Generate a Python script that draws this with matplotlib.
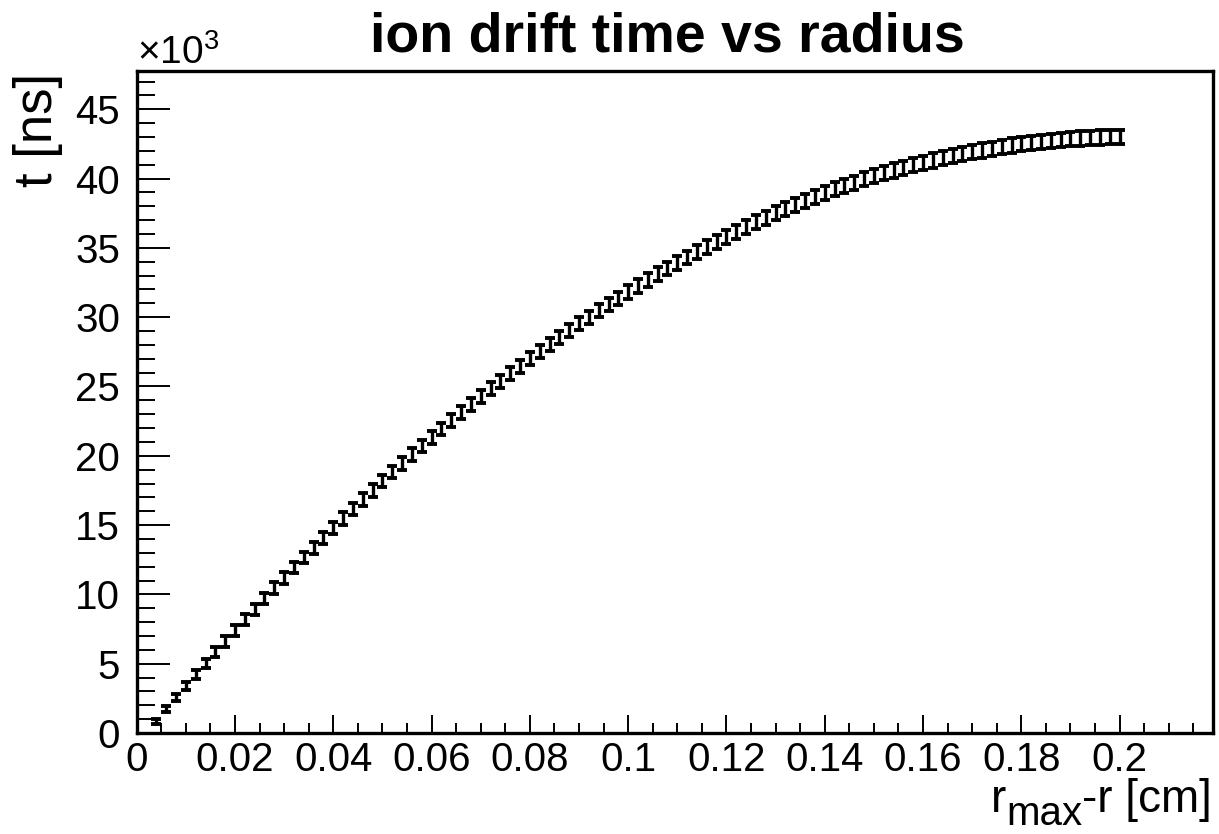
#!/usr/bin/env python3
"""Ion drift time vs radius, ROOT-style graph with error bars."""

import numpy as np
import matplotlib
matplotlib.use("Agg")
from matplotlib import pyplot as plt
from matplotlib.ticker import MultipleLocator, FuncFormatter

plt.rcParams["font.family"] = ["Liberation Sans", "DejaVu Sans"]
plt.rcParams["mathtext.fontset"] = "custom"
plt.rcParams["mathtext.rm"] = "Liberation Sans"
plt.rcParams["mathtext.it"] = "Liberation Sans"

# r_max - r in cm (0.004 ... 0.2, bins of 0.002)
r_cm = [round(0.002 * i, 3) for i in range(2, 101)]

# drift time in units of 10^3 ns
t_kns = [
    0.86, 1.70, 2.54, 3.37, 4.19, 5.00, 5.81, 6.60, 7.39, 8.17,
    8.94, 9.70, 10.45, 11.20, 11.93, 12.66, 13.38, 14.09, 14.79, 15.48,
    16.16, 16.84, 17.50, 18.16, 18.81, 19.45, 20.08, 20.71, 21.32, 21.93,
    22.53, 23.12, 23.70, 24.27, 24.83, 25.39, 25.93, 26.47, 27.00, 27.52,
    28.03, 28.54, 29.03, 29.52, 29.99, 30.46, 30.92, 31.37, 31.82, 32.25,
    32.68, 33.10, 33.51, 33.91, 34.30, 34.69, 35.07, 35.44, 35.80, 36.16,
    36.50, 36.84, 37.17, 37.49, 37.80, 38.10, 38.39, 38.68, 38.96, 39.22,
    39.47, 39.71, 39.95, 40.17, 40.38, 40.58, 40.78, 40.96, 41.13, 41.30,
    41.46, 41.61, 41.76, 41.90, 42.03, 42.15, 42.27, 42.38, 42.48, 42.57,
    42.65, 42.72, 42.79, 42.84, 42.89, 42.93, 42.96, 42.98, 43.00,
]

# error on the drift time, ns
t_err_ns = [
    180, 220, 260, 290, 320, 340, 360, 370, 380, 390,
    400, 405, 410, 415, 420, 425, 430, 432, 435, 438,
    440, 442, 444, 446, 448, 450, 452, 454, 456, 458,
    460, 462, 464, 466, 468, 470, 471, 472, 473, 474,
    475, 476, 477, 478, 479, 480, 481, 482, 483, 484,
    485, 486, 487, 488, 489, 490, 491, 492, 493, 494,
    495, 496, 497, 498, 499, 500, 501, 502, 503, 504,
    505, 506, 507, 508, 509, 510, 511, 512, 513, 514,
    515, 516, 516, 517, 517, 518, 518, 519, 519, 520,
    520, 520, 520, 520, 520, 520, 520, 520, 520,
]

t_ns = np.array(t_kns) * 1e3

W, H = 1219, 834
fig = plt.figure(figsize=(W / 100, H / 100), dpi=100)
ax = fig.add_axes([136.7 / W, 1 - 733 / H, (1213 - 136.7) / W, (733 - 71) / H])

ax.errorbar(r_cm, t_ns, yerr=t_err_ns, fmt="none", ecolor="black",
            elinewidth=2.4, capsize=3.6, capthick=2.8)

ax.set_xlim(0, 0.219)
ax.set_ylim(0, 47760)

ax.xaxis.set_major_locator(MultipleLocator(0.02))
ax.xaxis.set_minor_locator(MultipleLocator(0.005))
ax.yaxis.set_major_locator(MultipleLocator(5000))
ax.yaxis.set_minor_locator(MultipleLocator(1000))
ax.xaxis.set_major_formatter(FuncFormatter(lambda v, p: f"{v:g}"))
ax.yaxis.set_major_formatter(FuncFormatter(lambda v, p: f"{v / 1000:g}"))

ax.tick_params(axis="both", which="both", direction="in", top=False,
               right=False, width=1.4, labelsize=29)
ax.tick_params(axis="x", which="major", length=13, pad=6)
ax.tick_params(axis="x", which="minor", length=7)
ax.tick_params(axis="y", which="major", length=24, pad=12)
ax.tick_params(axis="y", which="minor", length=13)
for s in ax.spines.values():
    s.set_linewidth(2.4)

# Finishing touches
fig.text(667 / W, 1 - 52 / H, "ion drift time vs radius", ha="center",
         va="baseline", fontsize=40, fontweight="bold")
fig.text(137 / W, 1 - 64 / H, r"$\mathregular{\times10^{3}}$", ha="left",
         va="baseline", fontsize=28)
fig.text(38 / W, 1 - 73 / H, "t [ns]", rotation=90, ha="center", va="top",
         fontsize=38)

# x axis title built from pieces so the subscript stays large, as in ROOT
renderer = fig.canvas.get_renderer()
inv = fig.transFigure.inverted()
part = fig.text(1212 / W, 1 - 812 / H, "-r [cm]", ha="right",
                va="baseline", fontsize=33)
x0 = inv.transform(part.get_window_extent(renderer).p0)[0]
part = fig.text(x0, 1 / H, "max", ha="right", va="bottom", fontsize=29)
x0 = inv.transform(part.get_window_extent(renderer).p0)[0]
fig.text(x0, 1 - 812 / H, "r", ha="right", va="baseline", fontsize=33)

fig.savefig("out.png", dpi=100)
